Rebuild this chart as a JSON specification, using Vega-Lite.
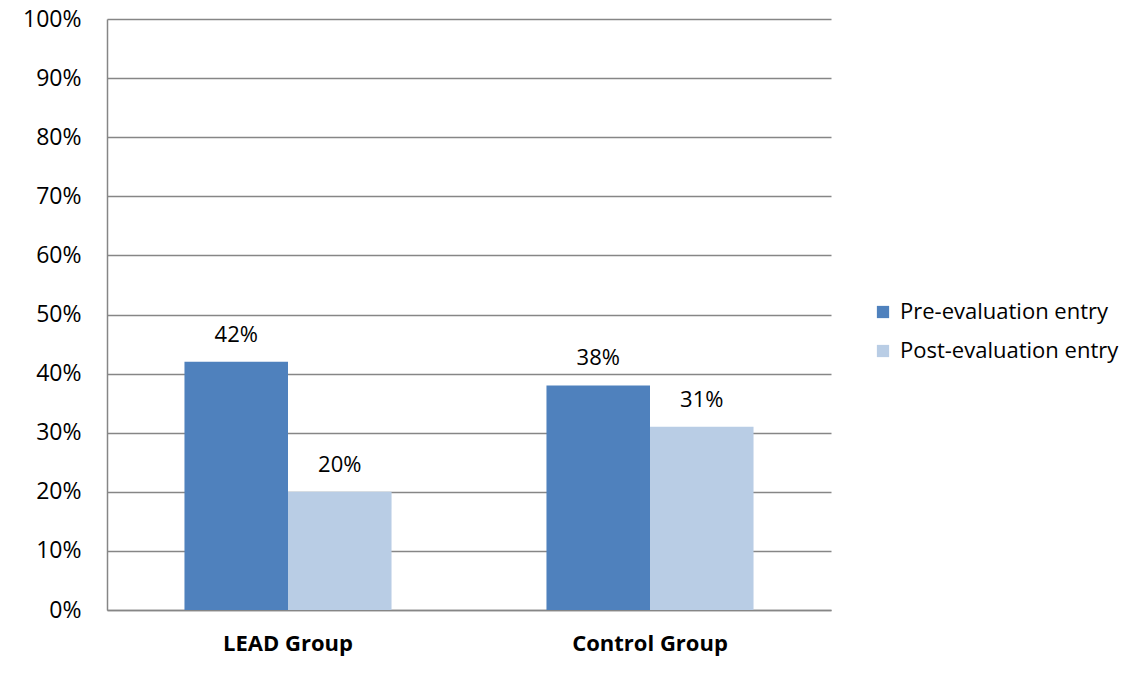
{
  "$schema": "https://vega.github.io/schema/vega-lite/v6.json",
  "width": 724,
  "height": 591,
  "autosize": "none",
  "padding": {"left": 107, "top": 19, "right": 308, "bottom": 65},
  "background": "white",
  "config": {"view": {"stroke": null}},
  "data": {
    "values": [
      {"group": "LEAD Group", "entry": "Pre-evaluation entry", "value": 0.42},
      {"group": "LEAD Group", "entry": "Post-evaluation entry", "value": 0.20},
      {"group": "Control Group", "entry": "Pre-evaluation entry", "value": 0.38},
      {"group": "Control Group", "entry": "Post-evaluation entry", "value": 0.31}
    ]
  },
  "encoding": {
    "x": {
      "field": "group",
      "type": "nominal",
      "sort": ["LEAD Group", "Control Group"],
      "scale": {"paddingInner": 0.428, "paddingOuter": 0.214},
      "axis": {
        "title": null,
        "labelAngle": 0,
        "labelFontWeight": "bold",
        "labelFontSize": 22,
        "labelFont": "Open Sans",
        "labelColor": "#000000",
        "labelPadding": 23,
        "ticks": false,
        "tickSize": 0,
        "domainColor": "#868686",
        "domainWidth": 1.5
      }
    },
    "xOffset": {
      "field": "entry",
      "type": "nominal",
      "sort": ["Pre-evaluation entry", "Post-evaluation entry"],
      "scale": {"paddingInner": 0, "paddingOuter": 0}
    },
    "y": {
      "field": "value",
      "type": "quantitative",
      "scale": {"domain": [0, 1]},
      "axis": {
        "title": null,
        "format": ".0%",
        "values": [0, 0.1, 0.2, 0.3, 0.4, 0.5, 0.6, 0.7, 0.8, 0.9, 1],
        "grid": true,
        "gridColor": "#868686",
        "gridWidth": 1.5,
        "ticks": false,
        "tickSize": 0,
        "labelPadding": 26,
        "labelFontSize": 23,
        "labelFont": "Open Sans",
        "labelColor": "#000000",
        "domainColor": "#868686",
        "domainWidth": 1.5
      }
    }
  },
  "layer": [
    {
      "mark": {"type": "bar"},
      "encoding": {
        "color": {
          "field": "entry",
          "type": "nominal",
          "scale": {
            "domain": ["Pre-evaluation entry", "Post-evaluation entry"],
            "range": ["#4F81BD", "#B9CDE5"]
          },
          "legend": {
            "title": null,
            "orient": "none",
            "legendX": 765,
            "legendY": 282,
            "padding": 0,
            "symbolType": "square",
            "symbolSize": 150,
            "symbolStrokeWidth": 0,
            "labelFont": "Open Sans",
            "labelFontSize": 22,
            "labelLimit": 400,
            "labelColor": "#000000",
            "labelOffset": 6,
            "rowPadding": 17
          }
        }
      }
    },
    {
      "mark": {"type": "text", "baseline": "alphabetic", "dy": -20, "font": "Open Sans", "fontSize": 22, "color": "#000000"},
      "encoding": {
        "text": {"field": "value", "type": "quantitative", "format": ".0%"}
      }
    }
  ]
}
